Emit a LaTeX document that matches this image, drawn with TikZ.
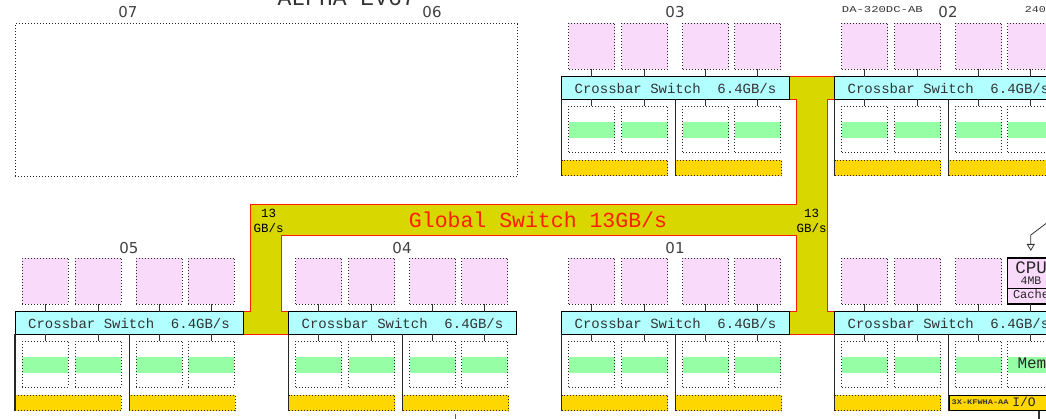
\documentclass[tikz,border=0pt]{standalone}
\usepackage{fontspec}
\setmainfont{DejaVu Sans}
\setmonofont{Liberation Mono}
\usepackage{graphicx}
\usetikzlibrary{arrows.meta}

\definecolor{cpupink}{RGB}{250,218,250}
\definecolor{xbarcyan}{RGB}{178,255,255}
\definecolor{memgreen}{RGB}{150,255,166}
\definecolor{iogold}{RGB}{255,215,0}
\definecolor{gswolive}{RGB}{216,216,0}
\definecolor{gswred}{RGB}{255,30,0}

\begin{document}
\begin{tikzpicture}[x=1pt, y=-1pt,
      dots/.style={draw=black!85, line width=0.8pt, dash pattern=on 0.8pt off 2.2pt},
      slot/.style={anchor=north west, inner sep=0pt, outer sep=0pt,
                   minimum width=46pt, minimum height=46pt},
      cpu/.style={slot, dots, fill=cpupink},
      cpubox/.style={slot, draw, line width=1.3pt, fill=cpupink},
      mem/.style={slot, dots, path picture={\fill[memgreen]
                  ([yshift=7.3pt]path picture bounding box.west) rectangle
                  ([yshift=-8.7pt]path picture bounding box.east);}},
      xbar/.style={draw, line width=1pt, fill=xbarcyan, anchor=north west,
                   inner sep=0pt, outer sep=0pt, minimum width=228pt, minimum height=22.6pt,
                   font=\ttfamily\fontsize{14}{14}\selectfont, text=black!80},
      io/.style={dots, fill=iogold, anchor=north west, inner sep=0pt, outer sep=0pt,
                 minimum height=15.7pt},
      lbl/.style={font=\fontsize{15}{15}\selectfont, text=black!75},
      rate/.style={align=center, font=\ttfamily\fontsize{12.5}{15}\selectfont, inner sep=0pt},
      part/.style={font=\ttfamily\fontsize{9}{9}\selectfont, text=black!80, anchor=west, inner sep=0pt},
      link/.style={line width=1.1pt, black!80},
      board/.style={line width=1.3pt, black!85},
      gsw/.style={draw=gswred, line width=1pt, fill=gswolive}]
    \useasboundingbox (0,0) rectangle (1046,419);
    \clip (0,0) rectangle (1046,419);

    % global switch
    \draw[gsw] (789.5,334.3) -- (789.5,311.7) -- (796.6,311.7) -- (796.6,235.7)
      -- (281.2,235.7) -- (281.2,311.7) -- (288.5,311.7) -- (288.5,334.3)
      -- (243,334.3) -- (243,311.7) -- (250.4,311.7) -- (250.4,205)
      -- (796.6,205) -- (796.6,99.3) -- (789.5,99.3) -- (789.5,76.7)
      -- (834.5,76.7) -- (834.5,99.3) -- (827.4,99.3) -- (827.4,311.7)
      -- (834.5,311.7) -- (834.5,334.3) -- cycle;
    \node[font=\ttfamily\fontsize{21.5}{21.5}\selectfont, text=gswred] (gswlbl) at (538,220.3) {Global Switch 13GB/s};
    \node[rate] (rateL) at (268.5,220.8) {13\\GB/s};
    \node[rate] (rateR) at (811.5,220.8) {13\\GB/s};

    % empty cabinet slots
    \node[dots, anchor=north west, inner sep=0pt, minimum width=502pt, minimum height=152.5pt] (qbb07) at (15,23.5) {};
    \node[font=\ttfamily\fontsize{23}{23}\selectfont, text=black!80, anchor=base] (cabtitle) at (346.7,5.5) {ALPHA EV67};
    \node[part] (partDA) at (841.7,10) {\scalebox{1.36}[1]{DA-320DC-AB}};
    \node[part, anchor=east] (part240) at (1046,10) {\scalebox{1.3}[1]{240}};

    \node[lbl] (l07) at (128,12.5) {07};
    \node[lbl] (l06) at (432,12.5) {06};
    \node[lbl] (l03) at (675,12.5) {03};
    \node[lbl] (l02) at (948,12.5) {02};
    \node[lbl] (l05) at (129,248) {05};
    \node[lbl] (l04) at (402,248) {04};
    \node[lbl] (l01) at (675,248) {01};

    % QBBs
    \foreach \q/\X/\Y in {03/561.5/0, 02/834.5/0, 05/15/235, 04/288.5/235, 01/561.5/235} {
      \node[xbar] (xbar\q) at (\X,\Y+76.7) {Crossbar~Switch~~6.4GB/s};
      \foreach \i/\o in {1/7.3, 2/60.3, 3/121.3, 4/173.3} {
        \node[cpu] (cpu\q\i) at (\X+\o,\Y+23) {};
        \node[mem] (mem\q\i) at (\X+\o,\Y+106) {};
        \draw[link] (cpu\q\i.south) -- (cpu\q\i.south |- xbar\q.north);
        \draw[link] (mem\q\i.north |- xbar\q.south) -- (mem\q\i.north);
      }
      \node[io, minimum width=106.3pt] (ioa\q) at (\X,\Y+160) {};
      \node[io, minimum width=105.7pt] (iob\q) at (\X+114.3,\Y+160) {};
      \draw[board] (xbar\q.south west) -- (ioa\q.south west);
      \draw[board] (iob\q.north west |- xbar\q.south) -- (iob\q.south west);
    }

    % QBB at lower right
    \node[xbar] (xbarR) at (834.5,311.7) {Crossbar~Switch~~6.4GB/s};
    \foreach \i/\o in {1/7.3, 2/60.3, 3/121.3} {
      \node[cpu] (cpuR\i) at (834.5+\o,258) {};
      \draw[link] (cpuR\i.south) -- (cpuR\i.south |- xbarR.north);
    }
    \node[cpubox] (cpuR4) at (1007.8,258) {};
    \draw[line width=1pt] (cpuR4.west |- 0,288.3) -- (cpuR4.east |- 0,288.3);
    \node[font=\ttfamily\fontsize{17.5}{17.5}\selectfont, text=black!85] (cpuRname) at (1031,267.7) {CPU};
    \node[font=\ttfamily\fontsize{11.5}{11.5}\selectfont, text=black!85] (cpuRcache) at (1031,281) {4MB};
    \node[font=\ttfamily\fontsize{12}{12}\selectfont, text=black!85] (cpuRlbl) at (1031,294.5) {Cache};
    \draw[link] (cpuR4.south) -- (cpuR4.south |- xbarR.north);
    \coordinate (cpuRin) at (1052,219);
    \draw[link, line width=0.8pt, -{Triangle[open, length=7pt, width=8pt]}] (cpuRin)
      -- (cpuR4.north |- 0,235) -- ([yshift=7pt]cpuR4.north);
    \foreach \i/\o in {1/7.3, 2/60.3, 3/121.3, 4/173.3} {
      \node[mem] (memR\i) at (834.5+\o,341) {};
      \draw[link] (memR\i.north |- xbarR.south) -- (memR\i.north);
    }
    \node[font=\ttfamily\fontsize{16}{16}\selectfont, text=black!85, anchor=west] (memRlbl) at (1014,364.5) {Memory};
    \node[io, minimum width=106.3pt] (ioaR) at (834.5,395) {};
    \node[draw, line width=1.1pt, fill=iogold, anchor=north west, inner sep=0pt,
          minimum width=110pt, minimum height=15.7pt] (iobR) at (948.5,394.5) {};
    \node[part, font=\ttfamily\bfseries\fontsize{7}{7}\selectfont] (partKF) at (951.5,402.5) {\scalebox{1.23}[1]{3X-KFWHA-AA}};
    \node[font=\ttfamily\fontsize{13}{13}\selectfont, text=black!85] (ioRlbl) at (1024,402.3) {I/O};
    \draw[board] (xbarR.south west) -- (ioaR.south west);
    \draw[board] (iobR.north west |- xbarR.south) -- (iobR.south west);
    \coordinate (ioRout) at (1039,420);
    \draw[link] (iobR.south -| ioRout) -- (ioRout);

    \coordinate (redtip) at (455,414);
    \draw[gswred, line width=1pt] (redtip) -- ++(0,6);
  \end{tikzpicture}
\end{document}
